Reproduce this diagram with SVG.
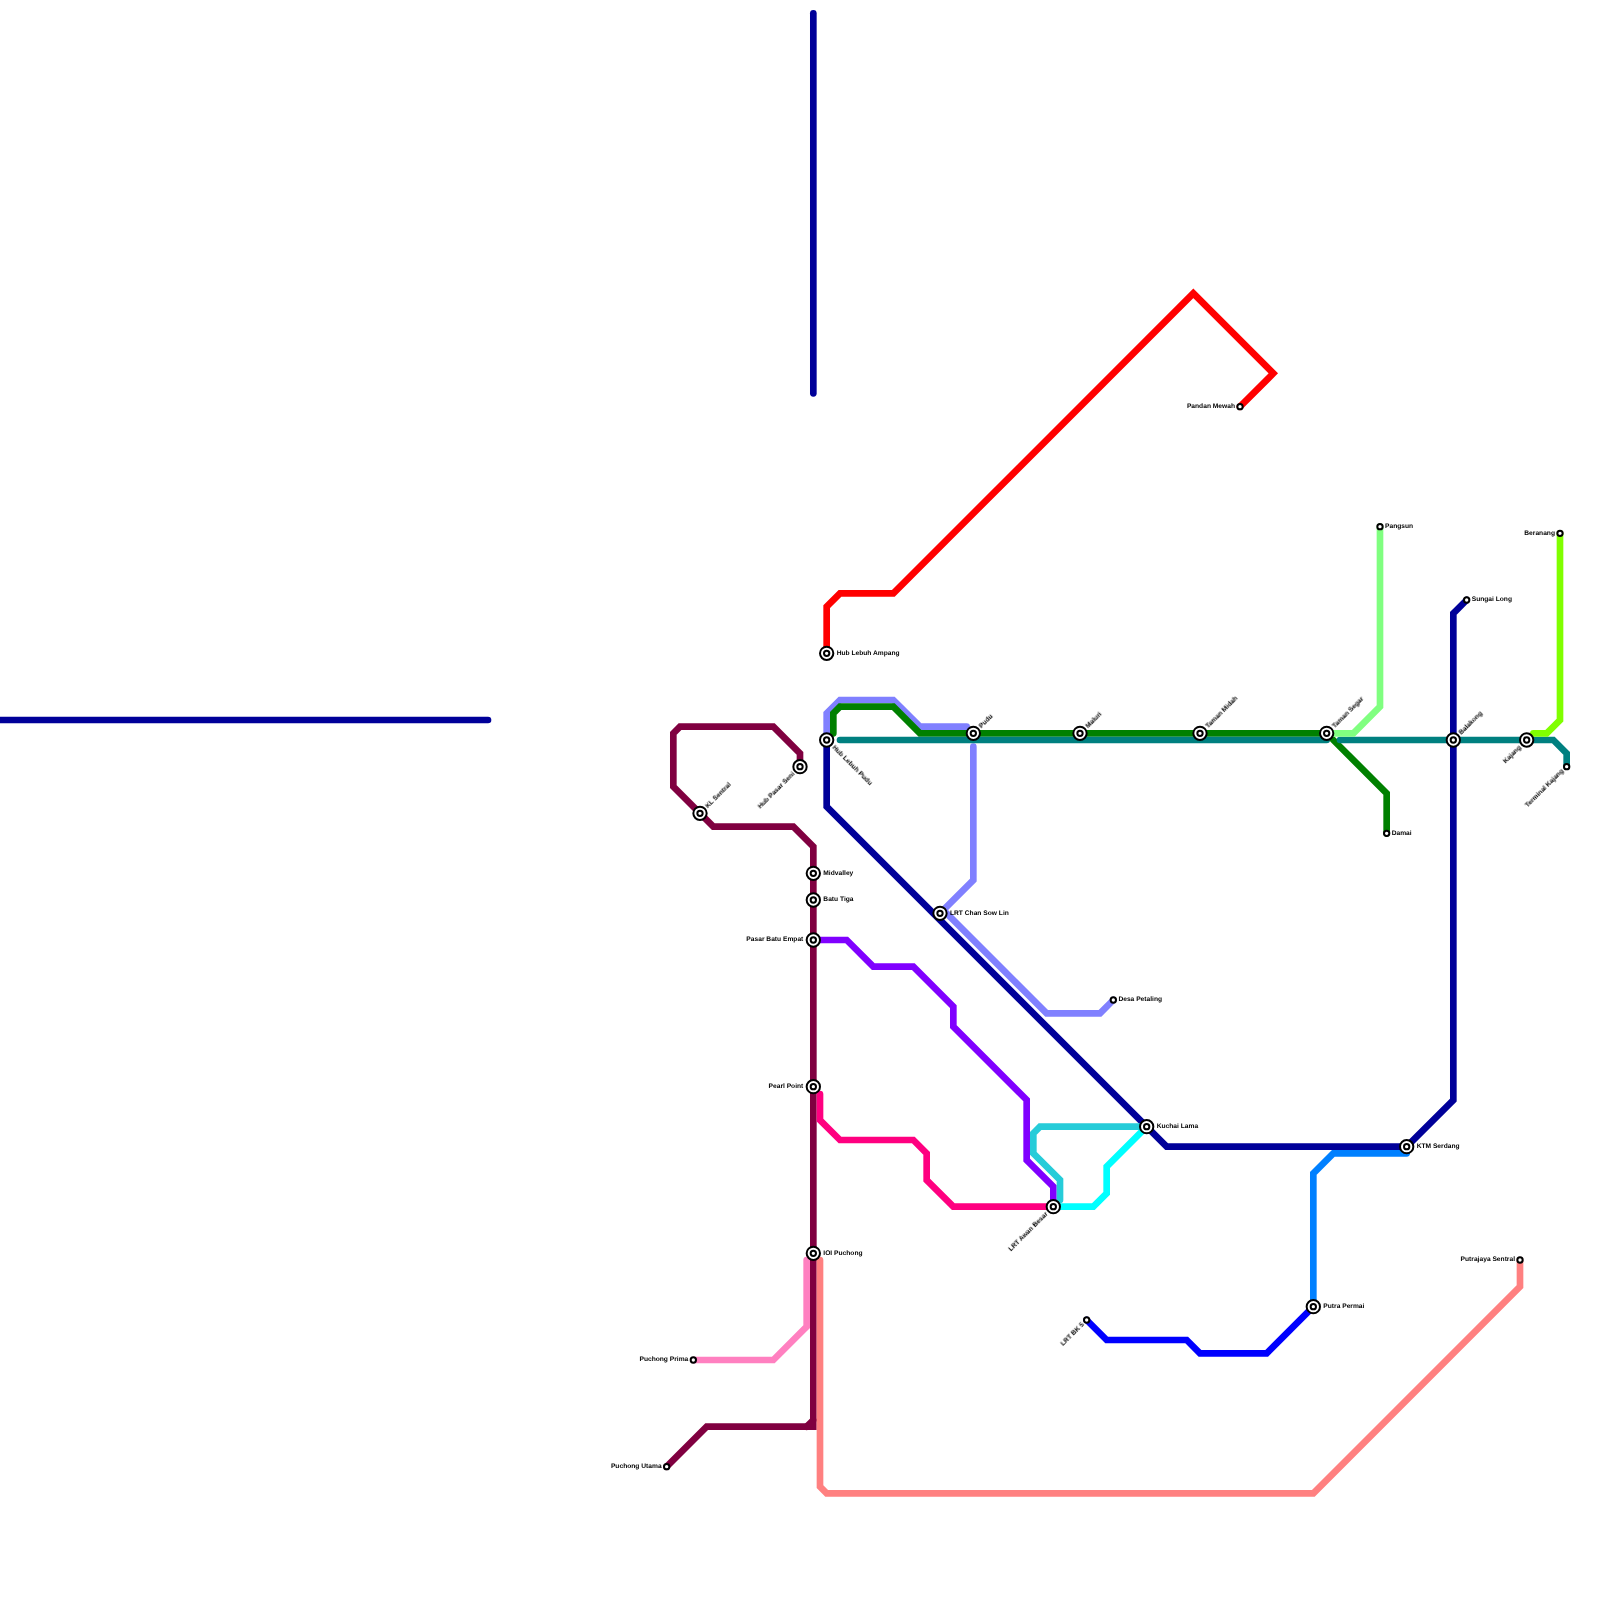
<svg xmlns="http://www.w3.org/2000/svg" width="1600" height="1600" viewBox="0 0 1600 1600">
<style>
.l{fill:none;stroke-width:6.67;stroke-linecap:round;stroke-linejoin:miter}
.i{fill:#fff;stroke:#000;stroke-width:2}
text{font-family:"Liberation Sans",Arial,sans-serif;font-size:6.67px;font-weight:bold;fill:#000;dominant-baseline:central;text-rendering:geometricPrecision;filter:url(#g)}
.e{text-anchor:end}
</style>
<rect width="1600" height="1600" fill="#fff"/>
<defs>
<filter id="g" x="-10%" y="-50%" width="120%" height="200%" color-interpolation-filters="sRGB"><feOffset dx="0" dy="0"/></filter>
<g id="big"><circle r="6.67" class="i"/><circle r="2.67" class="i"/></g>
<circle id="small" r="2.67" class="i"/>
</defs>
<g id="connectors">
<path class="l" stroke="#000099" d="M813.33 13.33V393.33"/>
<path class="l" stroke="#000099" d="M0 720H488"/>
<path class="l" stroke="#ff0000" d="M826.67 653.33V606.67L840 593.33H893.33L1193.33 293.33L1273.33 373.33L1240 406.67"/>
<path class="l" stroke="#8080ff" d="M826.67 740V713.33L840 700H893.33L920 726.67H966.67"/>
<path class="l" stroke="#8080ff" d="M973.33 746.67V880L940 913.33"/>
<path class="l" stroke="#8080ff" d="M946.67 913.33L1046.67 1013.33H1100L1113.33 1000"/>
<path class="l" stroke="#000099" d="M826.67 740V806.67L1166.67 1146.67H1406.67L1453.33 1100V613.33L1466.67 600"/>
<path class="l" stroke="#008000" d="M833.33 733.33V713.33L840 706.67H893.33L920 733.33H1326.67"/>
<path class="l" stroke="#008000" d="M1333.33 740L1386.67 793.33V833.33"/>
<path class="l" stroke="#008080" d="M840 740H1326.67"/>
<path class="l" stroke="#008080" d="M1340 740H1553.33L1566.67 753.33V766.67"/>
<path class="l" stroke="#80ff80" d="M1326.67 733.33H1353.33L1380 706.67V526.67"/>
<path class="l" stroke="#80ff00" d="M1533.33 733.33H1546.67L1560 720V533.33"/>
<path class="l" stroke="#800040" d="M800 766.67V753.33L773.33 726.67H680L673.33 733.33V786.67L713.33 826.67H793.33L813.33 846.67V1426.67H706.67L666.67 1466.67"/>
<path class="l" stroke="#800040" d="M813.33 1420L806.67 1426.67"/>
<path class="l" stroke="#8000ff" d="M813.33 940H846.67L873.33 966.67H913.33L953.33 1006.67V1026.67L1026.67 1100V1160L1053.33 1186.67V1206.67"/>
<path class="l" stroke="#26ccd9" d="M1146.67 1126.67H1040L1033.33 1133.33V1153.33L1060 1180V1200"/>
<path class="l" stroke="#00ffff" d="M1053.33 1206.67H1093.33L1106.67 1193.33V1166.67L1146.67 1126.67"/>
<path class="l" stroke="#ff0080" d="M820 1094V1120L840 1140H913.33L926.67 1153.33V1180L953.33 1206.67H1053.33"/>
<path class="l" stroke="#ff80c0" d="M806.67 1260V1326.67L773.33 1360H693.33"/>
<path class="l" stroke="#ff8080" d="M820 1260V1486.67L826.67 1493.33H1313.33L1520 1286.67V1260"/>
<path class="l" stroke="#0080ff" d="M1313.33 1306.67V1173.33L1333.33 1153.33H1406.67"/>
<path class="l" stroke="#0000ff" d="M1086.67 1320L1106.67 1340H1186.67L1200 1353.33H1266.67L1313.33 1306.67"/>
</g>
<g id="hub-lebuh-ampang"><use href="#big" x="826.67" y="653.33"/><text x="836.67" y="653.2">Hub Lebuh Ampang</text></g>
<g id="hub-lebuh-pudu"><use href="#big" x="826.67" y="740"/><text transform="translate(833.5 746.5) rotate(45)">Hub Lebuh Pudu</text></g>
<g id="hub-pasar-seni"><use href="#big" x="800" y="766.67"/><text class="e" transform="translate(793.5 773) rotate(-45)">Hub Pasar Seni</text></g>
<g id="kl-sentral"><use href="#big" x="700" y="813.33"/><text transform="translate(706.5 807) rotate(-45)">KL Sentral</text></g>
<g id="midvalley"><use href="#big" x="813.33" y="873.33"/><text x="823.33" y="873.2">Midvalley</text></g>
<g id="batu-tiga"><use href="#big" x="813.33" y="900"/><text x="823.33" y="899.9">Batu Tiga</text></g>
<g id="pasar-batu-empat"><use href="#big" x="813.33" y="940"/><text class="e" x="803.33" y="939.9">Pasar Batu Empat</text></g>
<g id="pearl-point"><use href="#big" x="813.33" y="1086.67"/><text class="e" x="803.33" y="1086.5">Pearl Point</text></g>
<g id="ioi-puchong"><use href="#big" x="813.33" y="1253.33"/><text x="823.33" y="1253.2">IOI Puchong</text></g>
<g id="puchong-prima"><use href="#small" x="693.33" y="1360"/><text class="e" x="688.3" y="1359.9">Puchong Prima</text></g>
<g id="puchong-utama"><use href="#small" x="666.67" y="1466.67"/><text class="e" x="661.6" y="1466.5">Puchong Utama</text></g>
<g id="pandan-mewah"><use href="#small" x="1240" y="406.67"/><text class="e" x="1235" y="406.5">Pandan Mewah</text></g>
<g id="pudu"><use href="#big" x="973.33" y="733.33"/><text transform="translate(980 727) rotate(-45)">Pudu</text></g>
<g id="maluri"><use href="#big" x="1080" y="733.33"/><text transform="translate(1086.7 727) rotate(-45)">Maluri</text></g>
<g id="taman-midah"><use href="#big" x="1200" y="733.33"/><text transform="translate(1206.7 727) rotate(-45)">Taman Midah</text></g>
<g id="taman-segar"><use href="#big" x="1326.67" y="733.33"/><text transform="translate(1333.3 727) rotate(-45)">Taman Segar</text></g>
<g id="balakong"><use href="#big" x="1453.33" y="740"/><text transform="translate(1460 733.5) rotate(-45)">Balakong</text></g>
<g id="kajang"><use href="#big" x="1526.67" y="740"/><text class="e" transform="translate(1520 746.5) rotate(-45)">Kajang</text></g>
<g id="terminal-kajang"><use href="#small" x="1566.67" y="766.67"/><text class="e" transform="translate(1562.5 770) rotate(-45)">Terminal Kajang</text></g>
<g id="pangsun"><use href="#small" x="1380" y="526.67"/><text x="1385" y="526.5">Pangsun</text></g>
<g id="beranang"><use href="#small" x="1560" y="533.33"/><text class="e" x="1555" y="533.2">Beranang</text></g>
<g id="sungai-long"><use href="#small" x="1466.67" y="600"/><text x="1471.7" y="599.9">Sungai Long</text></g>
<g id="damai"><use href="#small" x="1386.67" y="833.33"/><text x="1391.7" y="833.2">Damai</text></g>
<g id="lrt-chan-sow-lin"><use href="#big" x="940" y="913.33"/><text x="950" y="913.2">LRT Chan Sow Lin</text></g>
<g id="desa-petaling"><use href="#small" x="1113.33" y="1000"/><text x="1118.4" y="999.9">Desa Petaling</text></g>
<g id="kuchai-lama"><use href="#big" x="1146.67" y="1126.67"/><text x="1156.67" y="1126.5">Kuchai Lama</text></g>
<g id="ktm-serdang"><use href="#big" x="1406.67" y="1146.67"/><text x="1416.67" y="1146.5">KTM Serdang</text></g>
<g id="lrt-awan-besar"><use href="#big" x="1053.33" y="1206.67"/><text class="e" transform="translate(1046.7 1213) rotate(-45)">LRT Awan Besar</text></g>
<g id="putra-permai"><use href="#big" x="1313.33" y="1306.67"/><text x="1323.33" y="1306.5">Putra Permai</text></g>
<g id="lrt-bk-5"><use href="#small" x="1086.67" y="1320"/><text class="e" transform="translate(1083 1323.5) rotate(-45)">LRT BK 5</text></g>
<g id="putrajaya-sentral"><use href="#small" x="1520" y="1260"/><text class="e" x="1515" y="1259.9">Putrajaya Sentral</text></g>
</svg>
